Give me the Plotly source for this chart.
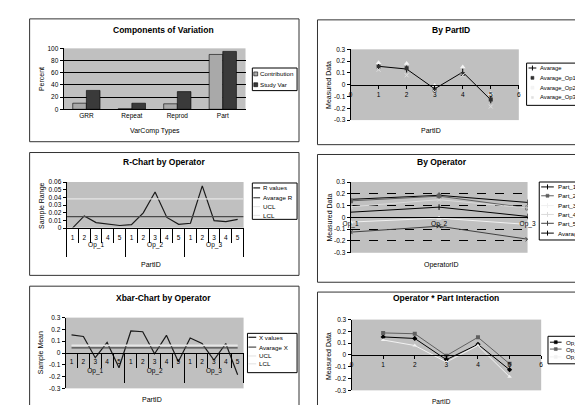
import plotly.graph_objects as go

W, H = 583, 405
FONT = "Liberation Sans, Arial, sans-serif"
PLOT_BG = "#c0c0c0"

# ---------------- data ----------------
varcomp_types = ["GRR", "Repeat", "Reprod", "Part"]
contribution = [10, 1, 9, 90]
study_var = [31, 10, 29, 95]

part_ids = ["1", "2", "3", "4", "5"]
part_nums = [1, 2, 3, 4, 5]
operators = ["Op_1", "Op_2", "Op_3"]

# operator x part means
op1_means = [0.153, 0.14, -0.04, 0.09, -0.125]
op2_means = [0.187, 0.18, -0.006, 0.15, -0.075]
op3_means = [0.127, 0.08, -0.06, 0.08, -0.185]
avg_by_part = [0.156, 0.133, -0.035, 0.107, -0.128]

# by operator (part series across operators)
part1_by_op = [0.153, 0.187, 0.127]
part2_by_op = [0.14, 0.18, 0.08]
part3_by_op = [-0.04, -0.006, -0.06]
part4_by_op = [0.09, 0.15, 0.08]
part5_by_op = [-0.125, -0.075, -0.185]
avg_by_op = [0.044, 0.087, 0.008]

# ranges
r_op1 = [0.0, 0.016, 0.0073, 0.0051, 0.0035]
r_op2 = [0.0047, 0.020, 0.047, 0.014, 0.005]
r_op3 = [0.0064, 0.055, 0.0098, 0.0086, 0.0115]
avg_r = 0.015
ucl_r = 0.038
lcl_r = 0.0

avg_x = 0.043
ucl_x = 0.068
lcl_x = 0.062

sym_ticks = [-0.3, -0.2, -0.1, 0, 0.1, 0.2, 0.3]
sym_ticktext = ["-0.3", "-0.2", "-0.1", "0", "0.1", "0.2", "0.3"]

# ---------------- helpers ----------------
def px(x):
    return x / W

def py(y):
    return 1 - y / H

def xdom(a, b):
    return [px(a), px(b)]

def ydom(top, bottom):
    return [py(bottom), py(top)]

n_parts = len(part_ids)
n_cat = n_parts * len(operators)
cat_pos = list(range(1, n_cat + 1))                       # category slots on the (operator, part) axis
cat_text = [p for _ in operators for p in part_ids]
part_bounds = [k + 0.5 for k in range(1, n_cat)]
group_centers = [n_parts * g + (n_parts + 1) / 2 for g in range(len(operators))]
group_bounds = [n_parts * g + 0.5 for g in range(len(operators) + 1)]
cat_range = [0.5, n_cat + 0.5]

fig = go.Figure()

# 1. Components of variation
fig.add_trace(go.Bar(x=varcomp_types, y=contribution, name="Contribution",
                     marker=dict(color="#a9a9a9", line=dict(color="black", width=0.6)),
                     xaxis="x", yaxis="y"))
fig.add_trace(go.Bar(x=varcomp_types, y=study_var, name="Study Var",
                     marker=dict(color="#3a3a3a", line=dict(color="black", width=0.6)),
                     xaxis="x", yaxis="y"))

# 2. By PartID
fig.add_trace(go.Scatter(x=part_nums, y=avg_by_part, mode="lines+markers", name="Avarage",
                         line=dict(color="black", width=1),
                         marker=dict(symbol="line-ns-open", size=5, color="black", line=dict(color="black", width=1)),
                         xaxis="x2", yaxis="y2"))
fig.add_trace(go.Scatter(x=part_nums, y=op1_means, mode="markers", name="Avarage_Op1",
                         marker=dict(symbol="square", size=4, color="#303030"),
                         xaxis="x2", yaxis="y2"))
fig.add_trace(go.Scatter(x=part_nums, y=op2_means, mode="markers", name="Avarage_Op2",
                         marker=dict(symbol="triangle-up", size=5, color="#f4f4f4"),
                         xaxis="x2", yaxis="y2"))
fig.add_trace(go.Scatter(x=part_nums, y=op3_means, mode="markers", name="Avarage_Op3",
                         marker=dict(symbol="x-thin-open", size=4, color="#e0e0e0",
                                     line=dict(color="#e0e0e0", width=1)),
                         xaxis="x2", yaxis="y2"))

# 3. R-chart
r_all = r_op1 + r_op2 + r_op3
fig.add_trace(go.Scatter(x=cat_pos, y=r_all, mode="lines", name="R values",
                         line=dict(color="#1a1a1a", width=1.2), xaxis="x3", yaxis="y3"))
for name, val, col in [("Avarage R", avg_r, "#4a4a4a"), ("UCL", ucl_r, "#e6e6e6"), ("LCL", lcl_r, "#e6e6e6")]:
    fig.add_trace(go.Scatter(x=cat_range, y=[val, val], mode="lines", name=name,
                             line=dict(color=col, width=1.2), xaxis="x7", yaxis="y3"))

# 4. By Operator
by_op_series = [
    ("Part_1", part1_by_op, "black", "line-ns-open"),
    ("Part_2", part2_by_op, "#606060", "square"),
    ("Part_3", part3_by_op, "#f0f0f0", "triangle-up"),
    ("Part_4", part4_by_op, "#dadada", "x-thin-open"),
    ("Part_5", part5_by_op, "#404040", "x-thin-open"),
    ("Avarage", avg_by_op, "black", "line-ns-open"),
]
for name, vals, col, sym in by_op_series:
    fig.add_trace(go.Scatter(x=operators, y=vals, mode="lines+markers", name=name,
                             line=dict(color=col, width=1),
                             marker=dict(symbol=sym, size=4, color=col, line=dict(color=col, width=1)),
                             xaxis="x4", yaxis="y4"))

# 5. Xbar chart
x_all = op1_means + op2_means + op3_means
fig.add_trace(go.Scatter(x=cat_pos, y=x_all, mode="lines", name="X values",
                         line=dict(color="#1a1a1a", width=1.2), xaxis="x5", yaxis="y5"))
for name, val, col in [("Avarage X", avg_x, "#4a4a4a"), ("UCL", ucl_x, "#e6e6e6"), ("LCL", lcl_x, "#e6e6e6")]:
    fig.add_trace(go.Scatter(x=[cat_pos[0], cat_pos[-1]], y=[val, val], mode="lines", name=name,
                             line=dict(color=col, width=1.2), xaxis="x8", yaxis="y5"))

# 6. Interaction
inter_series = [
    ("Op_1", op1_means, "black", "diamond"),
    ("Op_2", op2_means, "#606060", "square"),
    ("Op_3", op3_means, "#f2f2f2", "triangle-up"),
]
for name, vals, col, sym in inter_series:
    fig.add_trace(go.Scatter(x=part_nums, y=vals, mode="lines+markers", name=name,
                             line=dict(color=col, width=1),
                             marker=dict(symbol=sym, size=4, color=col),
                             xaxis="x6", yaxis="y6"))

# ---------------- axes ----------------
tickfont = dict(family=FONT, size=6.5, color="black")
common_y = dict(showline=True, linecolor="black", linewidth=1, ticks="outside", ticklen=3,
                tickcolor="black", tickfont=tickfont, showgrid=False, zeroline=False, fixedrange=True)

layout = dict(
    width=W, height=H, margin=dict(l=0, r=0, t=0, b=0),
    paper_bgcolor="white", plot_bgcolor=PLOT_BG, showlegend=False,
    barmode="group", bargap=0.4, bargroupgap=0,
    font=dict(family=FONT, size=7, color="black"),
)

# panel 1
layout["xaxis"] = dict(domain=xdom(49, 236), anchor="y", showline=True, linecolor="black",
                       ticks="", tickfont=tickfont, showgrid=False)
layout["yaxis"] = dict(common_y, domain=ydom(37, 99), anchor="x", range=[0, 100], dtick=20,
                       showgrid=True, gridcolor="black", gridwidth=1)

# panel 2
zero2 = (38 + 110) / 2
layout["xaxis2"] = dict(domain=xdom(344, 517), anchor="free", position=py(zero2), range=[0, 6],
                        dtick=1, showline=True, linecolor="black", ticks="outside", ticklen=3,
                        tickcolor="black", tickfont=tickfont, showgrid=False, zeroline=False)
layout["yaxis2"] = dict(common_y, domain=ydom(38, 110), anchor="x2", range=[-0.3, 0.3],
                        tickvals=sym_ticks, ticktext=sym_ticktext)

# category axes (part level + operator level)
def part_axis(dom, **kw):
    d = dict(domain=dom, range=cat_range, tickmode="array", tickvals=cat_pos, ticktext=cat_text,
             ticks="", showline=True, linecolor="black", tickfont=tickfont, showgrid=False,
             zeroline=False, ticklabelstandoff=3,
             minor=dict(tickmode="array", tickvals=part_bounds, ticks="outside", ticklen=14,
                        tickcolor="black", tickwidth=1, showgrid=False))
    d.update(kw)
    return d

def group_axis(dom, over, **kw):
    d = dict(domain=dom, overlaying=over, range=cat_range, tickmode="array", tickvals=group_centers,
             ticktext=operators, ticks="", showline=False, tickfont=tickfont, showgrid=False,
             zeroline=False, ticklabelstandoff=11,
             minor=dict(tickmode="array", tickvals=group_bounds, ticks="outside", ticklen=28,
                        tickcolor="black", tickwidth=1, showgrid=False))
    d.update(kw)
    return d

# panel 3
layout["xaxis3"] = part_axis(xdom(52, 234), anchor="y3")
layout["xaxis7"] = group_axis(xdom(52, 234), "x3", anchor="y3")
layout["yaxis3"] = dict(common_y, domain=ydom(173, 220), anchor="x3", range=[0, 0.06], dtick=0.01)

# panel 4
zero4 = (173 + 245) / 2
layout["xaxis4"] = dict(domain=xdom(344, 526), anchor="free", position=py(zero4), type="category",
                        range=[0, 2], showline=True, linecolor="black", ticks="", tickfont=tickfont,
                        showgrid=False)
layout["yaxis4"] = dict(common_y, domain=ydom(173, 245), anchor="x4", range=[-0.3, 0.3],
                        tickvals=sym_ticks, ticktext=sym_ticktext, showgrid=True,
                        gridcolor="black", gridwidth=1, griddash="dash")

# panel 5
zero5 = (311 + 383) / 2
layout["xaxis5"] = part_axis(xdom(51, 234), anchor="free", position=py(zero5), ticklabelstandoff=2)
layout["xaxis8"] = group_axis(xdom(51, 234), "x5", anchor="free", position=py(zero5),
                              ticklabelstandoff=12,
                              minor=dict(tickmode="array", tickvals=group_bounds, ticks="outside",
                                         ticklen=29, tickcolor="black", tickwidth=1, showgrid=False))
layout["yaxis5"] = dict(common_y, domain=ydom(311, 383), anchor="x5", range=[-0.3, 0.3],
                        tickvals=sym_ticks, ticktext=sym_ticktext)

# panel 6
zero6 = (313 + 385) / 2
layout["xaxis6"] = dict(domain=xdom(345, 540), anchor="free", position=py(zero6), range=[0, 6],
                        dtick=1, showline=True, linecolor="black", ticks="outside", ticklen=3,
                        tickcolor="black", tickfont=tickfont, showgrid=False, zeroline=False)
layout["yaxis6"] = dict(common_y, domain=ydom(313, 385), anchor="x6", range=[-0.3, 0.3],
                        tickvals=sym_ticks, ticktext=sym_ticktext)

fig.update_layout(**layout)

# ---------------- panel frames ----------------
shapes = []
for (x0, y0, x1, y1) in [(14, 7, 291, 132), (310, 8, 600, 135),
                         (14, 143, 291, 268), (310, 145, 600, 275),
                         (14, 279, 291, 420), (310, 285, 600, 420)]:
    shapes.append(dict(type="rect", xref="paper", yref="paper", x0=px(x0), x1=px(x1),
                       y0=py(y1), y1=py(y0), line=dict(color="#333333", width=1),
                       fillcolor="rgba(0,0,0,0)", layer="below"))

annotations = []

def text(x, y, s, size=7, bold=False, angle=0, anchor="center"):
    annotations.append(dict(xref="paper", yref="paper", x=px(x), y=py(y), text=("<b>%s</b>" % s) if bold else s,
                            showarrow=False, textangle=angle, xanchor=anchor, yanchor="middle",
                            font=dict(family=FONT, size=size, color="black")))

# titles
text(152, 18, "Components of Variation", 8.5, True)
text(447, 18, "By PartID", 8.5, True)
text(152, 153, "R-Chart by Operator", 8.5, True)
text(438, 153, "By Operator", 8.5, True)
text(152, 291, "Xbar-Chart by Operator", 8.5, True)
text(442, 291, "Operator * Part Interaction", 8.5, True)

# axis titles
text(143, 121, "VarComp Types")
text(27, 68, "Percent", angle=-90)
text(427, 121, "PartID")
text(322, 74, "Measured Data", angle=-90)
text(26, 197, "Sample Range", angle=-90)
text(139, 257, "PartID")
text(322, 209, "Measured Data", angle=-90)
text(438, 257, "OperatorID")
text(26, 347, "Sample Mean", angle=-90)
text(140, 394, "PartID")
text(322, 350, "Measured Data", angle=-90)
text(438, 396, "PartID", 6.5)

# ---------------- manual legends ----------------
def legend_box(x0, y0, x1, y1):
    shapes.append(dict(type="rect", xref="paper", yref="paper", x0=px(x0), x1=px(x1),
                       y0=py(y1), y1=py(y0), line=dict(color="black", width=1), fillcolor="white"))

def legend_line(x0, x1, y, color, width=1.2):
    shapes.append(dict(type="line", xref="paper", yref="paper", x0=px(x0), x1=px(x1),
                       y0=py(y), y1=py(y), line=dict(color=color, width=width)))

def legend_square(xc, y, color, size=3, border="black"):
    shapes.append(dict(type="rect", xref="paper", yref="paper", x0=px(xc - size / 2), x1=px(xc + size / 2),
                       y0=py(y + size / 2), y1=py(y - size / 2), line=dict(color=border, width=0.6),
                       fillcolor=color))

def legend_tick(xc, y, color):
    shapes.append(dict(type="line", xref="paper", yref="paper", x0=px(xc), x1=px(xc),
                       y0=py(y + 2.5), y1=py(y - 2.5), line=dict(color=color, width=1)))

LF = 6.2
# legend 1
legend_box(243, 57, 289, 80)
legend_square(246.5, 63, "#a9a9a9", 4)
text(249, 63, "Contribution", LF, anchor="left")
legend_square(246.5, 74, "#3a3a3a", 4)
text(249, 74, "Study Var", LF, anchor="left")

# legend 2
legend_box(525, 52, 600, 95)
legend_line(527, 535, 57, "black", 1)
legend_tick(531, 57, "black")
text(537, 57, "Avarage", 5.8, anchor="left")
legend_square(531, 67, "#303030", 3, "#303030")
text(537, 67, "Avarage_Op1", 5.8, anchor="left")
legend_square(531, 77, "#f4f4f4", 3, "#f4f4f4")
text(537, 77, "Avarage_Op2", 5.8, anchor="left")
legend_square(531, 87, "#e0e0e0", 2, "#e0e0e0")
text(537, 87, "Avarage_Op3", 5.8, anchor="left")

# legend 3
legend_box(243, 174, 289, 211)
for yy, lab, col in [(179, "R values", "#1a1a1a"), (189, "Avarage R", "#4a4a4a"),
                     (198, "UCL", "#e6e6e6"), (207, "LCL", "#e6e6e6")]:
    legend_line(244, 251, yy, col)
    text(252, yy, lab, LF, anchor="left")

# legend 4
legend_box(538, 173, 600, 232)
for yy, (lab, vals, col, sym) in zip([178, 187, 197, 206, 215, 225], by_op_series):
    legend_line(540, 553, yy, col, 1)
    if sym == "square":
        legend_square(546.5, yy, col, 3, col)
    else:
        legend_tick(546.5, yy, col)
    text(555, yy, lab, LF, anchor="left")

# legend 5
legend_box(238, 327, 289, 367)
for yy, lab, col in [(331, "X values", "#1a1a1a"), (341, "Avarage X", "#4a4a4a"),
                     (350, "UCL", "#e6e6e6"), (358, "LCL", "#e6e6e6")]:
    legend_line(239, 247, yy, col)
    text(248, yy, lab, LF, anchor="left")

# legend 6
legend_box(547, 330, 600, 358)
for yy, (lab, vals, col, sym) in zip([336, 343, 351], inter_series):
    legend_line(549, 561, yy, col, 1)
    legend_square(555, yy, col, 3, col)
    text(563, yy, lab, LF, anchor="left")

fig.update_layout(shapes=shapes, annotations=annotations)
fig.write_html("out.html")
